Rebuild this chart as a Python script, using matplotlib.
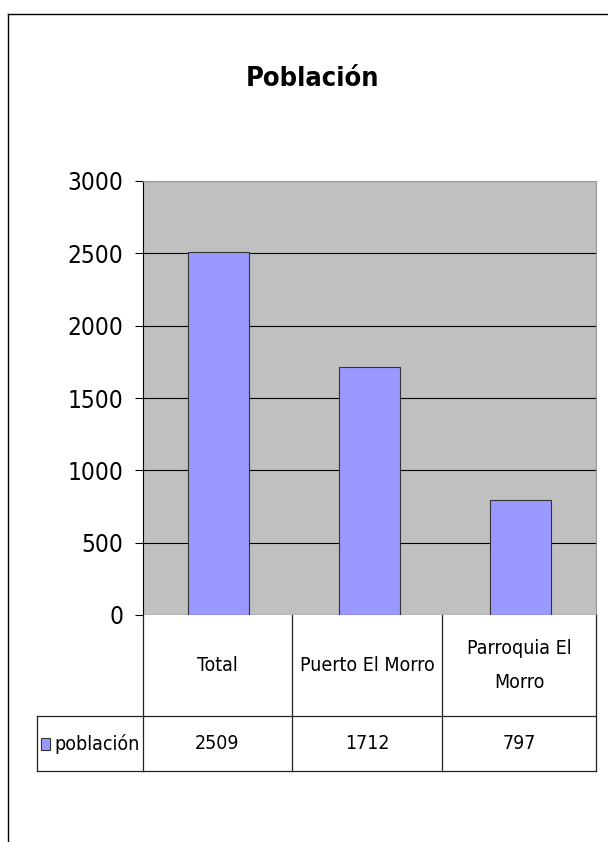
import matplotlib.pyplot as plt
from matplotlib.lines import Line2D
from matplotlib.patches import Rectangle

plt.rcParams["font.family"] = ["DejaVu Sans"]
plt.rcParams["font.stretch"] = "condensed"

# Data ======================
categories = ["Total", "Puerto El Morro", "Parroquia El\nMorro"]
values = [2509, 1712, 797]
series_name = "población"
title = "Población"
y_ticks = [0, 500, 1000, 1500, 2000, 2500, 3000]

BAR_COLOR = "#9999ff"
W, H = 608, 842


def fx(px):
    return px / W


def fy(py):
    return 1 - py / H


fig = plt.figure(figsize=(W / 100, H / 100), dpi=100)

# outer frame (left and top only)
fig.add_artist(Line2D([fx(8), fx(8)], [fy(14), 0], color="black", lw=1))
fig.add_artist(Line2D([fx(8), 1], [fy(14), fy(14)], color="black", lw=1))

fig.text(fx(313), fy(79), title, ha="center", va="center",
         fontsize=19.5, fontweight="bold")

# Plot area
ax = fig.add_axes([fx(143), fy(615), fx(596) - fx(143), (615 - 181) / H])
ax.set_facecolor("#c0c0c0")
x = range(len(values))
ax.bar(x, values, width=0.4, color=BAR_COLOR, edgecolor="#333333", lw=0.8, zorder=3)
ax.set_xlim(-0.5, len(values) - 0.5)
ax.set_ylim(0, 3000)
ax.set_yticks(y_ticks)
ax.set_yticklabels([str(t) for t in y_ticks], fontsize=17.5)
ax.tick_params(axis="y", length=6, width=0.8, pad=8)
ax.set_xticks([])
ax.yaxis.grid(True, color="black", lw=0.8)
ax.set_axisbelow(True)
for s in ["top", "right"]:
    ax.spines[s].set_color("#999999")
ax.spines["bottom"].set_visible(False)
ax.spines["left"].set_linewidth(0.8)

# Data table (pixel coordinates of the layout)
tax = fig.add_axes([0, 0, 1, 1], facecolor="none")
tax.set_xlim(0, W)
tax.set_ylim(H, 0)
tax.axis("off")
col_edges = [143, 292, 442, 596]
top, mid, bot = 615, 716, 771
lc = dict(color="#222222", lw=0.9)
for xe in col_edges:
    tax.plot([xe, xe], [top, bot], **lc)
tax.plot([37, 37], [mid, bot], **lc)
tax.plot([37, 596], [mid, mid], **lc)
tax.plot([37, 596], [bot, bot], **lc)
for i, (cat, v) in enumerate(zip(categories, values)):
    cx = (col_edges[i] + col_edges[i + 1]) / 2
    tax.text(cx, (top + mid) / 2, cat, ha="center", va="center",
             fontsize=14, linespacing=2.0)
    tax.text(cx, (mid + bot) / 2, str(v), ha="center", va="center", fontsize=14)
tax.add_patch(Rectangle((41, 738), 9, 12, facecolor=BAR_COLOR,
                        edgecolor="#333333", lw=0.8))
tax.text(54, (mid + bot) / 2, series_name, ha="left", va="center", fontsize=14)

fig.savefig("out.png", dpi=100)
